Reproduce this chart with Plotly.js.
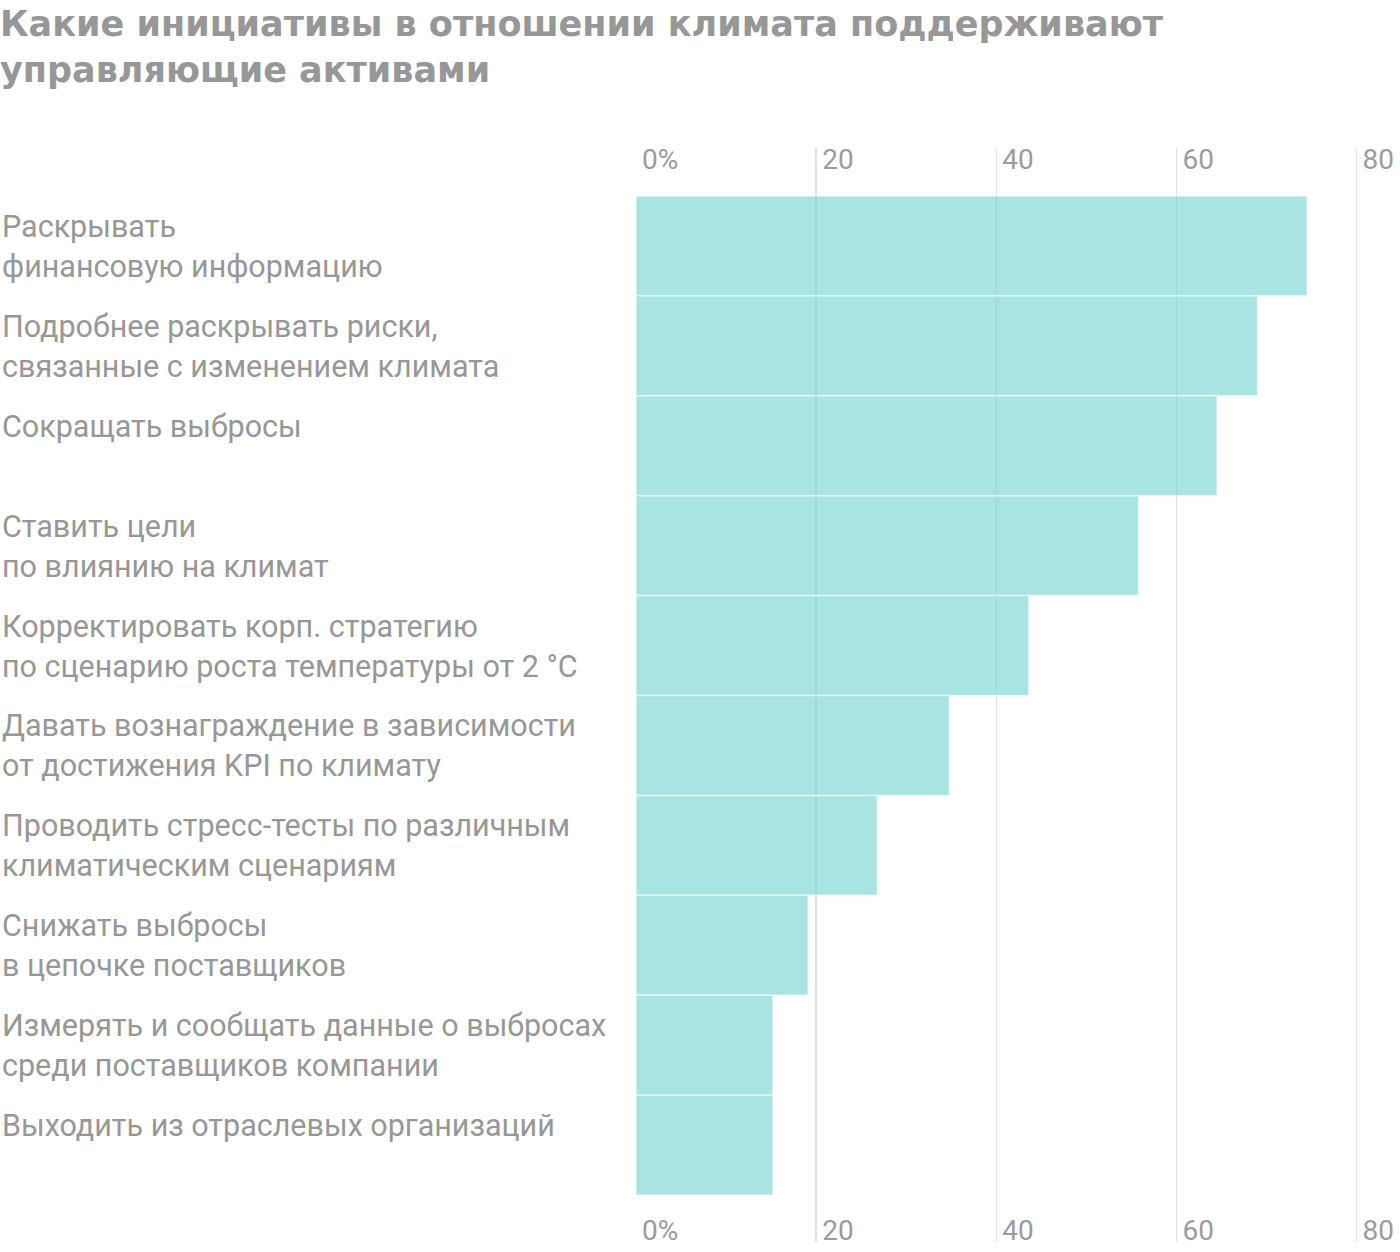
<!DOCTYPE html>
<html>
<head>
<meta charset="utf-8">
<script src="https://cdn.plot.ly/plotly-3.0.1.min.js"></script>
<style>
  body { margin: 0; background: #fff; }
  #chart { width: 1400px; height: 1252px; }
</style>
</head>
<body>
<div id="chart"></div>
<script>
// initiatives, top to bottom
const initiatives = [
    "Раскрывать<br>финансовую информацию",
    "Подробнее раскрывать риски,<br>связанные с изменением климата",
    "Сокращать выбросы",
    "Ставить цели<br>по влиянию на климат",
    "Корректировать корп. стратегию<br>по сценарию роста температуры от 2 °C",
    "Давать вознаграждение в зависимости<br>от достижения KPI по климату",
    "Проводить стресс-тесты по различным<br>климатическим сценариям",
    "Снижать выбросы<br>в цепочке поставщиков",
    "Измерять и сообщать данные о выбросах<br>среди поставщиков компании",
    "Выходить из отраслевых организаций"
];

// share of asset managers, %
const shares = [74.5, 69.0, 64.5, 55.8, 43.6, 34.8, 26.8, 19.1, 15.2, 15.2];

const tickValues = [0, 20, 40, 60, 80];
const tickLabels = ["0%", "20", "40", "60", "80"];

const titleText = "Какие инициативы в отношении климата поддерживают<br>управляющие активами";

const FONT = "Roboto, 'Open Sans', sans-serif";
const marginLeft = 636;
const marginRight = 2;
const plotWidth = 1400 - marginLeft - marginRight;

const bars = {
    type: 'bar',
    orientation: 'h',
    x: shares,
    y: initiatives,
    xaxis: 'x',
    yaxis: 'y',
    marker: {
        color: 'rgba(110, 212, 207, 0.6)',
        line: { color: 'rgba(255, 255, 255, 0.55)', width: 1.5 }
    },
    hoverinfo: 'x+y',
    showlegend: false
};

// invisible copy so the top axis gets drawn
const topAxisHolder = {
    type: 'scatter',
    mode: 'markers',
    x: shares,
    y: initiatives,
    xaxis: 'x2',
    yaxis: 'y',
    marker: { opacity: 0 },
    hoverinfo: 'skip',
    showlegend: false
};

const tickFont = { family: FONT, size: 28, color: '#9b9b9b' };

// labels sit at the top of each band, left-aligned to the page edge
const labelNotes = initiatives.map(function (name) {
    return {
        text: name,
        x: -marginLeft / plotWidth,
        xref: 'paper',
        xanchor: 'left',
        y: name,
        yref: 'y',
        yanchor: 'top',
        yshift: 39,
        align: 'left',
        showarrow: false,
        font: { family: FONT, size: 30.5, color: '#979797' }
    };
});

const layout = {
    width: 1400,
    height: 1252,
    paper_bgcolor: '#ffffff',
    plot_bgcolor: '#ffffff',
    margin: { l: marginLeft, r: marginRight, t: 148, b: 10 },
    bargap: 0,
    title: {
        text: titleText,
        x: 0,
        xref: 'container',
        xanchor: 'left',
        y: 0.971,
        yref: 'container',
        yanchor: 'top',
        font: { family: "'DejaVu Sans', sans-serif", size: 35, color: '#979797', weight: 700 }
    },
    xaxis: {
        range: [0, 84.6],
        side: 'bottom',
        tickvals: tickValues,
        ticktext: tickLabels,
        ticklabelposition: 'inside right',
        ticklabelshift: 6,
        ticklabelstandoff: -10,
        tickfont: tickFont,
        showgrid: true,
        gridcolor: '#e1e1e1',
        gridwidth: 1.5,
        zeroline: false,
        showline: false,
        ticks: '',
        fixedrange: true
    },
    xaxis2: {
        overlaying: 'x',
        matches: 'x',
        side: 'top',
        tickvals: tickValues,
        ticktext: tickLabels,
        ticklabelposition: 'inside right',
        ticklabelshift: 6,
        ticklabelstandoff: -5,
        tickfont: tickFont,
        showgrid: false,
        zeroline: false,
        showline: false,
        ticks: '',
        fixedrange: true
    },
    yaxis: {
        type: 'category',
        categoryorder: 'array',
        categoryarray: initiatives,
        range: [9.97, -0.98],
        showticklabels: false,
        showgrid: false,
        zeroline: false,
        ticks: '',
        fixedrange: true
    },
    annotations: labelNotes,
    showlegend: false
};

Plotly.newPlot('chart', [bars, topAxisHolder], layout, { displayModeBar: false, staticPlot: true });
</script>
</body>
</html>
